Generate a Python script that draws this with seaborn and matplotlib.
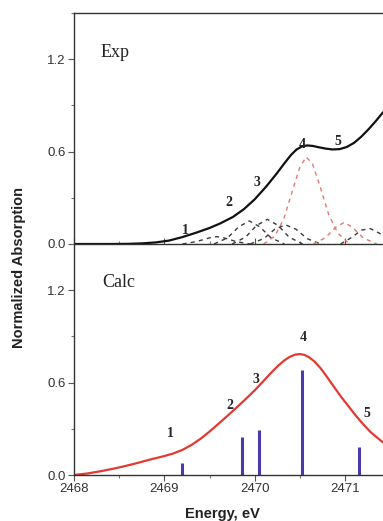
import numpy as np
import pandas as pd
import matplotlib
matplotlib.use("Agg")
import matplotlib.pyplot as plt
import seaborn as sns
from matplotlib.ticker import MultipleLocator

sns.set_theme(style="white")
plt.rcParams['font.family'] = ['Liberation Sans', 'DejaVu Sans']

# ---- Experimental spectrum (top) ----
exp_x = [2468.0, 2468.4, 2468.6, 2468.75, 2468.9, 2469.05, 2469.2, 2469.35, 2469.5, 2469.62,
         2469.76, 2469.88, 2470.0, 2470.13, 2470.24, 2470.33, 2470.4, 2470.46, 2470.52,
         2470.58, 2470.64, 2470.71, 2470.78, 2470.86, 2470.94, 2471.02, 2471.1, 2471.18,
         2471.26, 2471.34, 2471.42]
exp_y = [0.0, 0.0, 0.001, 0.004, 0.01, 0.022, 0.045, 0.073, 0.104, 0.134,
         0.176, 0.226, 0.29, 0.375, 0.455, 0.525, 0.577, 0.612, 0.633,
         0.64, 0.637, 0.628, 0.62, 0.614, 0.616, 0.63, 0.657, 0.697,
         0.745, 0.798, 0.855]

# fitted components (dashed)
comp_black = [
    ([2469.2, 2469.35, 2469.5, 2469.58, 2469.66, 2469.8, 2469.95],
     [0.0, 0.015, 0.04, 0.048, 0.04, 0.015, 0.0]),
    ([2469.55, 2469.7, 2469.82, 2469.94, 2470.06, 2470.18, 2470.33],
     [0.0, 0.04, 0.11, 0.15, 0.11, 0.04, 0.0]),
    ([2469.75, 2469.9, 2470.02, 2470.14, 2470.26, 2470.38, 2470.53],
     [0.0, 0.045, 0.12, 0.16, 0.12, 0.045, 0.0]),
    ([2469.95, 2470.1, 2470.22, 2470.34, 2470.46, 2470.58, 2470.73],
     [0.0, 0.035, 0.095, 0.125, 0.095, 0.035, 0.0]),
    ([2470.95, 2471.08, 2471.18, 2471.28, 2471.38, 2471.5],
     [0.0, 0.045, 0.09, 0.1, 0.07, 0.02]),
]
comp_red = [
    ([2470.1, 2470.22, 2470.32, 2470.42, 2470.5, 2470.57, 2470.64, 2470.72, 2470.82, 2470.92, 2471.05],
     [0.0, 0.05, 0.16, 0.35, 0.5, 0.565, 0.52, 0.38, 0.19, 0.07, 0.0]),
    ([2470.65, 2470.78, 2470.9, 2470.99, 2471.08, 2471.2, 2471.35],
     [0.0, 0.04, 0.11, 0.14, 0.11, 0.04, 0.0]),
]

exp_lab_x = [2469.23, 2469.71, 2470.02, 2470.53, 2470.92]
exp_lab_y = [0.09, 0.27, 0.40, 0.645, 0.665]
peak_labels = ["1", "2", "3", "4", "5"]

# ---- Calculated spectrum (bottom) ----
calc_x = [2468.0, 2468.15, 2468.3, 2468.47, 2468.65, 2468.84, 2469.0, 2469.1, 2469.2,
          2469.3, 2469.4, 2469.5, 2469.6, 2469.7, 2469.8, 2469.9, 2470.0, 2470.1,
          2470.18, 2470.26, 2470.33, 2470.39, 2470.45, 2470.5, 2470.55, 2470.6, 2470.66,
          2470.73, 2470.8, 2470.88, 2470.96, 2471.04, 2471.12, 2471.2, 2471.28, 2471.35,
          2471.42]
calc_y = [0.0, 0.01, 0.025, 0.045, 0.07, 0.1, 0.123, 0.14, 0.163,
          0.195, 0.235, 0.282, 0.333, 0.385, 0.438, 0.493, 0.55, 0.612,
          0.663, 0.71, 0.745, 0.768, 0.782, 0.785, 0.78, 0.765, 0.738,
          0.693, 0.637, 0.57, 0.505, 0.445, 0.385, 0.33, 0.28, 0.245,
          0.212]

stick_x = [2469.19, 2469.86, 2470.05, 2470.52, 2471.15]
stick_y = [0.076, 0.25, 0.29, 0.685, 0.18]

calc_lab_x = [2469.07, 2469.72, 2470.01, 2470.54, 2471.24]
calc_lab_y = [0.27, 0.45, 0.62, 0.89, 0.40]

W, H = 383, 521
fig = plt.figure(figsize=(W / 100, H / 100), dpi=100)
ax1 = fig.add_axes([74 / W, 1 - 244 / H, (W - 74) / W, 231 / H])
ax2 = fig.add_axes([74 / W, 1 - 475 / H, (W - 74) / W, 231 / H])

serif = ['Liberation Serif', 'DejaVu Serif']

# top panel
for xs, ys in comp_black:
    sns.lineplot(x=xs, y=ys, ax=ax1, color='#3a3a3a', lw=1.0, linestyle=(0, (3, 3)), sort=False)
for xs, ys in comp_red:
    sns.lineplot(x=xs, y=ys, ax=ax1, color='#e07a70', lw=1.0, linestyle=(0, (3, 3)), sort=False)
ax1.axhline(0.003, color='#555555', lw=0.8, linestyle=(0, (3, 3)))
sns.lineplot(x=exp_x, y=exp_y, ax=ax1, color='#111111', lw=1.6, sort=False)
for lx, ly, t in zip(exp_lab_x, exp_lab_y, peak_labels):
    ax1.text(lx, ly, t, ha='center', va='center', fontsize=10, fontweight='bold', family=serif)
ax1.text(2468.45, 1.245, "Exp", ha='center', va='center', fontsize=13, family=serif, color='#222222')

# bottom panel
sns.lineplot(x=calc_x, y=calc_y, ax=ax2, color='#e03a32', lw=1.6, sort=False)
ax2.vlines(stick_x, 0, stick_y, color='#4a3aaa', lw=2.2)
for lx, ly, t in zip(calc_lab_x, calc_lab_y, peak_labels):
    ax2.text(lx, ly, t, ha='center', va='center', fontsize=10, fontweight='bold', family=serif)
ax2.text(2468.5, 1.25, "Calc", ha='center', va='center', fontsize=13, family=serif, color='#222222')

for ax in (ax1, ax2):
    ax.set_xlim(2468.0, 2471.42)
    ax.set_ylim(0.0, 1.5)
    ax.set_yticks([0.0, 0.6, 1.2])
    ax.set_yticklabels(["0.0", "0.6", "1.2"])
    ax.yaxis.set_minor_locator(MultipleLocator(0.3))
    ax.xaxis.set_major_locator(MultipleLocator(1.0))
    ax.xaxis.set_minor_locator(MultipleLocator(0.5))
    ax.spines['right'].set_visible(False)
    for s in ('left', 'bottom', 'top'):
        ax.spines[s].set_color('#333333')
        ax.spines[s].set_linewidth(1.0)
    ax.tick_params(axis='both', which='both', bottom=True, left=True, top=False, right=False)
    ax.tick_params(axis='both', which='major', direction='out', length=4, width=0.8,
                   color='#555555', labelsize=9.5, labelcolor='#333333', pad=2)
    ax.tick_params(axis='both', which='minor', direction='out', length=2.5, width=0.8,
                   color='#777777')
    ax.set_xlabel("")
    ax.set_ylabel("")
    ax.patch.set_alpha(0)

ax1.tick_params(axis='x', which='both', labelbottom=False, direction='in')
ax2.spines['top'].set_visible(False)
ax2.set_xticks([2468, 2469, 2470, 2471])
ax2.set_xticklabels(["2468", "2469", "2470", "2471"])

fig.text(222 / W, 1 - 514 / H, "Energy, eV", ha='center', va='center',
         fontsize=10.5, fontweight='bold', color='#222222')
fig.text(19 / W, 1 - 268 / H, "Normalized Absorption", ha='center', va='center',
         rotation=90, fontsize=10.5, fontweight='bold', color='#222222')

fig.savefig("out.png", dpi=100)
